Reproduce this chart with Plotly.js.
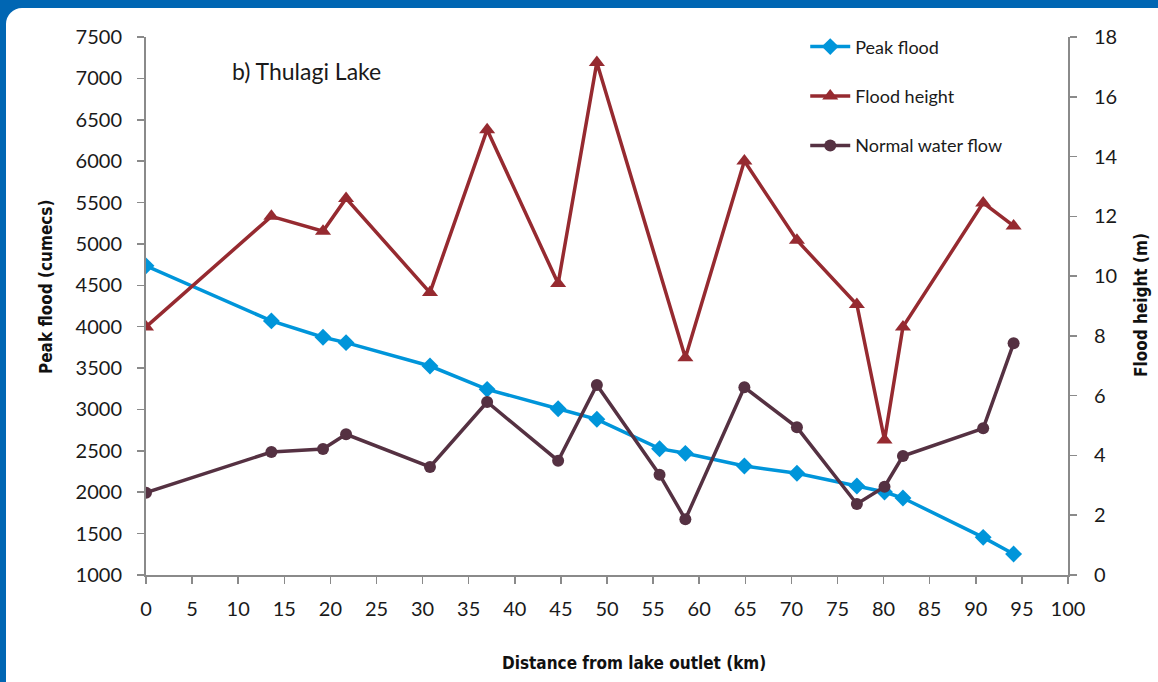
<!DOCTYPE html>
<html>
<head>
<meta charset="utf-8">
<script src="https://cdn.plot.ly/plotly-3.0.1.min.js"></script>
<style>
  html, body { margin:0; padding:0; width:1158px; height:682px; overflow:hidden; background:#0066B3; }
  #card { position:absolute; left:6px; top:8px; width:1220px; height:720px; background:#ffffff; border-top-left-radius:16px; }
  #chart { position:absolute; left:0; top:0; width:1158px; height:682px; }
</style>
</head>
<body>
<div id="card"></div>
<div id="chart"></div>
<script>
// Distance from lake outlet (km)
const distance = [0, 13.6, 19.2, 21.7, 30.8, 37.0, 44.7, 48.9, 55.7, 58.5, 64.9, 70.6, 77.1, 80.1, 82.1, 90.8, 94.1];
// Peak flood (cumecs)
const peakFlood = [4735, 4070, 3872, 3807, 3525, 3243, 3009, 2881, 2526, 2470, 2317, 2229, 2075, 2003, 1930, 1455, 1254];
// Flood height (m) - no marker at 55.7 km
const floodHeight = [8.3, 12.0, 11.5, 12.6, 9.45, 14.9, 9.75, 17.15, null, 7.27, 13.85, 11.2, 9.05, 4.52, 8.3, 12.45, 11.68];
// Normal water flow (cumecs)
const normalFlow = [1995, 2486, 2522, 2700, 2305, 3090, 2381, 3296, 2212, 1673, 3268, 2784, 1858, 2067, 2438, 2772, 3799];

const xTicks = [0,5,10,15,20,25,30,35,40,45,50,55,60,65,70,75,80,85,90,95,100];

const tickFont = {family: 'Lato, "Open Sans", sans-serif', size: 20, color: '#1a1a1a'};
const titleFont = {family: '"Liberation Sans Narrow", "DejaVu Sans Condensed", sans-serif', size: 17, color: '#111111', weight: 'bold'};
const axisColor = '#8a8a8a';

const traces = [
  {
    x: distance, y: peakFlood, name: 'Peak flood', type: 'scatter', mode: 'lines+markers',
    line: {color: '#0095DA', width: 3.5},
    marker: {symbol: 'diamond', size: 13, color: '#0095DA'},
    yaxis: 'y', legendgroup: 'a'
  },
  {
    x: distance, y: floodHeight, name: 'Flood height', type: 'scatter', mode: 'lines+markers',
    connectgaps: true,
    line: {color: '#962A30', width: 3.5},
    marker: {symbol: 'triangle-up', size: 14, color: '#962A30'},
    yaxis: 'y2', legendgroup: 'b'
  },
  {
    x: distance, y: normalFlow, name: 'Normal water flow', type: 'scatter', mode: 'lines+markers',
    line: {color: '#553142', width: 3.5},
    marker: {symbol: 'circle', size: 12, color: '#553142'},
    yaxis: 'y', legendgroup: 'c'
  }
];

const layout = {
  width: 1158, height: 682,
  margin: {l: 146, r: 90, t: 37, b: 107, pad: 0},
  paper_bgcolor: 'rgba(0,0,0,0)',
  plot_bgcolor: 'rgba(0,0,0,0)',
  showlegend: true,
  legend: {
    x: 0.715, y: 1.016, xanchor: 'left', yanchor: 'top',
    font: {family: 'Lato, "Open Sans", sans-serif', size: 18, color: '#1a1a1a'},
    traceorder: 'grouped', tracegroupgap: 23,
    bgcolor: 'rgba(0,0,0,0)', itemwidth: 40
  },
  xaxis: {
    range: [0, 100], tickvals: xTicks, ticktext: xTicks.map(String),
    showgrid: false, zeroline: false, showline: true, linecolor: axisColor, linewidth: 2,
    ticks: 'outside', ticklen: 7, tickwidth: 1.5, tickcolor: axisColor,
    tickfont: tickFont, ticklabelstandoff: 8
  },
  yaxis: {
    range: [1000, 7500], dtick: 500, tick0: 1000,
    showgrid: false, zeroline: false, showline: true, linecolor: axisColor, linewidth: 2,
    ticks: 'outside', ticklen: 7, tickwidth: 1.5, tickcolor: axisColor,
    tickfont: tickFont, ticklabelstandoff: 11
  },
  yaxis2: {
    range: [0, 18], dtick: 2, tick0: 0, overlaying: 'y', side: 'right',
    showgrid: false, zeroline: false, showline: true, linecolor: axisColor, linewidth: 2,
    ticks: 'outside', ticklen: 7, tickwidth: 1.5, tickcolor: axisColor,
    tickfont: tickFont, ticklabelstandoff: 13
  },
  annotations: [
    {
      text: 'b) Thulagi Lake', xref: 'paper', yref: 'paper', x: 0.091, y: 0.936,
      xanchor: 'left', yanchor: 'middle', showarrow: false,
      font: {family: 'Lato, "Open Sans", sans-serif', size: 23, color: '#1a1a1a'}
    },
    {
      text: 'Distance from lake outlet (km)', xref: 'paper', yref: 'paper',
      x: (634 - 146) / 922, y: -(663 - 575) / 538, xanchor: 'center', yanchor: 'middle',
      showarrow: false, font: titleFont
    },
    {
      text: 'Peak flood (cumecs)', xref: 'paper', yref: 'paper', textangle: -90,
      x: -(146 - 46) / 922, y: (575 - 287) / 538, xanchor: 'center', yanchor: 'middle',
      showarrow: false, font: titleFont
    },
    {
      text: 'Flood height (m)', xref: 'paper', yref: 'paper', textangle: -90,
      x: 1 + (1141 - 1068) / 922, y: (575 - 305) / 538, xanchor: 'center', yanchor: 'middle',
      showarrow: false, font: titleFont
    }
  ]
};

Plotly.newPlot('chart', traces, layout, {displayModeBar: false, staticPlot: true});
</script>
</body>
</html>
